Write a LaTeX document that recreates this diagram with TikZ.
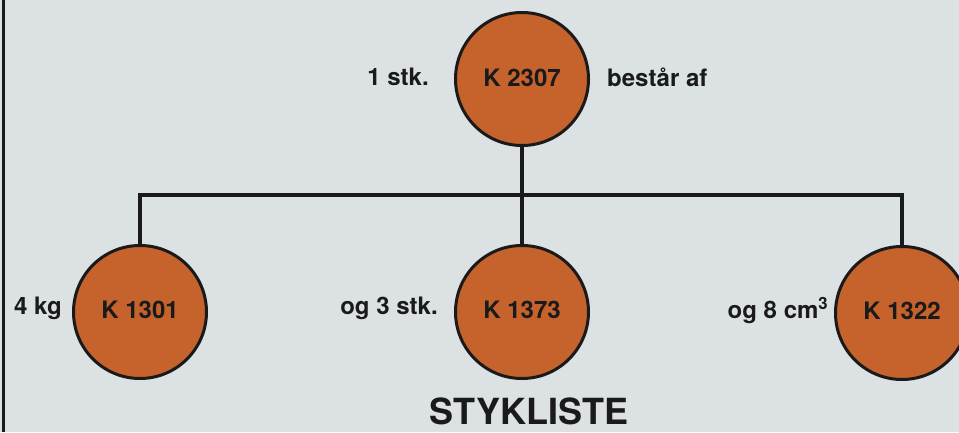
\documentclass[tikz,border=0pt]{standalone}
\usepackage{fontspec}
\setmainfont{TeX Gyre Heros}
\definecolor{bg}{HTML}{DCE1E3}
\definecolor{part}{HTML}{C6622B}
\definecolor{ink}{HTML}{1A1A1A}
\begin{document}
\begin{tikzpicture}[x=1pt,y=1pt,
  part/.style={circle,draw=ink,fill=part,line width=3pt,minimum size=133pt,inner sep=0pt,
    font=\fontsize{24}{24}\selectfont\bfseries,text=ink},
  lbl/.style={font=\fontsize{24}{24}\selectfont\bfseries,text=ink,inner sep=0pt},
  conn/.style={draw=ink,line width=3.5pt}]
\fill[bg] (0,0) rectangle (959,432);
\useasboundingbox (0,0) rectangle (959,432);
% left border
\draw[ink,line width=3pt] (3,0) -- (3,432);
% nodes
\node[part] (top) at (522,353) {\raisebox{2pt}{K 2307}};
\node[part] (c1) at (140,120) {\raisebox{4pt}{K 1301}};
\node[part] (c2) at (522,120) {\raisebox{4pt}{K 1373}};
\node[part] (c3) at (902,119) {\raisebox{4pt}{K 1322}};
% connectors
\coordinate (j) at (522,237);
\draw[conn] (top.south) -- (c2.north);
\draw[conn,line cap=rect] (c1.north) -- (c1.north |- j) -- (c3.north |- j) -- (c3.north);
% labels
\node[lbl] (l0) at (398,355) {1 stk.};
\node[lbl,anchor=west] (l1) at (607,355) {består af};
\node[lbl] (l2) at (38,124) {4 kg};
\node[lbl] (l3) at (389,124) {og 3 stk.};
\node[lbl] (l4) at (778,121) {og 8 cm\textsuperscript{3}};
\node[font=\fontsize{36}{36}\selectfont\bfseries,text=ink,anchor=base,inner sep=0pt] (title) at (529,8) {STYKLISTE};
\end{tikzpicture}
\end{document}
